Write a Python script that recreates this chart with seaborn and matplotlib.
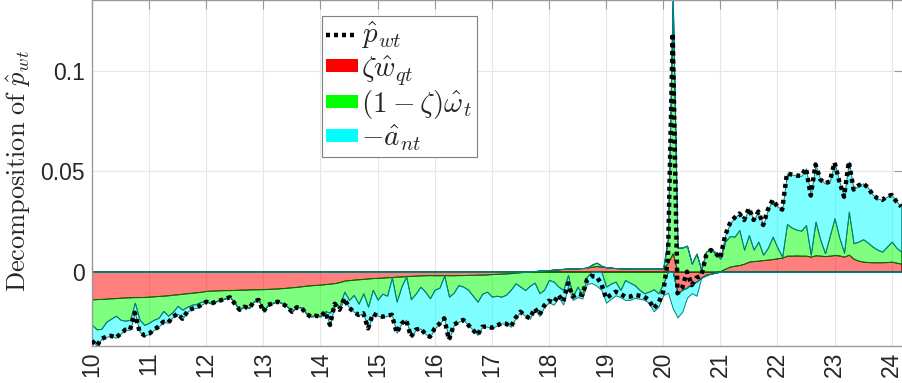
import numpy as np
import pandas as pd
import matplotlib
matplotlib.use("Agg")
import matplotlib.pyplot as plt
from matplotlib.lines import Line2D
from matplotlib.patches import Patch
import seaborn as sns

# ---------------- data (monthly, x = year - 2000) ----------------
start_year = 10
n_months = 171
years = start_year + np.arange(n_months) / 12.0

# total  p_hat_wt
p_wt = [
    -0.0345, -0.037, -0.0335, -0.0325, -0.032, -0.033, -0.031, -0.029, -0.029, -0.0205, -0.03, -0.0318,
    -0.031, -0.029, -0.0274, -0.025, -0.0255, -0.0225, -0.021, -0.0235, -0.02, -0.0185, -0.018, -0.0165,
    -0.015, -0.016, -0.015, -0.0143, -0.0135, -0.0128, -0.016, -0.019, -0.0175, -0.0183, -0.015, -0.0141,
    -0.02, -0.0166, -0.0158, -0.015, -0.016, -0.0175, -0.02, -0.0178, -0.018, -0.021, -0.0225, -0.022,
    -0.0225, -0.02, -0.0266, -0.016, -0.019, -0.0133, -0.018, -0.02, -0.0216, -0.0208, -0.0283, -0.021,
    -0.022, -0.0225, -0.022, -0.0215, -0.0305, -0.026, -0.024, -0.0325, -0.029, -0.0283, -0.031, -0.0325,
    -0.0283, -0.026, -0.0233, -0.034, -0.0266, -0.025, -0.0241, -0.0265, -0.029, -0.0316, -0.0275, -0.0274,
    -0.028, -0.027, -0.0258, -0.026, -0.0275, -0.023, -0.02, -0.022, -0.0233, -0.0183, -0.0216, -0.017,
    -0.0145, -0.0155, -0.0116, -0.015, -0.0058, -0.0125, -0.011, -0.0116, -0.004, -0.0022, -0.0025, -0.006,
    -0.0133, -0.0116, -0.01, -0.011, -0.0125, -0.0125, -0.0116, -0.012, -0.0125, -0.0141, -0.0183, -0.0158,
    -0.01, 0.006, 0.119, -0.0108, -0.008, 0.0, -0.0067, -0.003, -0.002, 0.008, 0.0108, 0.0092,
    0.0067, 0.018, 0.024, 0.027, 0.029, 0.0258, 0.0316, 0.0258, 0.030, 0.0233, 0.031, 0.0358,
    0.0325, 0.031, 0.049, 0.0485, 0.048, 0.0478, 0.0516, 0.038, 0.0535, 0.046, 0.0441, 0.045,
    0.0545, 0.045, 0.0374, 0.0549, 0.041, 0.043, 0.0441, 0.042, 0.0385, 0.0366, 0.0358, 0.0375,
    0.0383, 0.035, 0.0325,
]

# zeta * w_hat_qt  (red)
zeta_wqt = [
    -0.0138, -0.0137, -0.0136, -0.0135, -0.0133, -0.0132, -0.013, -0.0129, -0.0128, -0.0127, -0.0127, -0.0126,
    -0.0125, -0.0123, -0.0121, -0.012, -0.0118, -0.0115, -0.0113, -0.011, -0.0108, -0.0105, -0.0103, -0.01,
    -0.0096, -0.0095, -0.0094, -0.0093, -0.0092, -0.0092, -0.0091, -0.009, -0.009, -0.0089, -0.0088, -0.0088,
    -0.0087, -0.0086, -0.0085, -0.0084, -0.0082, -0.008, -0.0078, -0.0076, -0.0073, -0.007, -0.0068, -0.0066,
    -0.0065, -0.0062, -0.006, -0.0057, -0.0052, -0.0045, -0.0042, -0.004, -0.0038, -0.0036, -0.0034, -0.0032,
    -0.0031, -0.003, -0.0028, -0.0027, -0.0025, -0.0024, -0.0022, -0.0021, -0.002, -0.0019, -0.0018, -0.0017,
    -0.0018, -0.0018, -0.0017, -0.0018, -0.0018, -0.0017, -0.0017, -0.0016, -0.0016, -0.0015, -0.0015, -0.0014,
    -0.0012, -0.0011, -0.001, -0.0009, -0.0007, -0.0005, -0.0003, 0.0, 0.0002, 0.0003, 0.0005, 0.0006,
    0.0008, 0.001, 0.0012, 0.0014, 0.0015, 0.0016, 0.0017, 0.0018, 0.002, 0.0025, 0.0028, 0.0025,
    0.0022, 0.002, 0.0018, 0.0017, 0.0016, 0.0016, 0.0015, 0.0015, 0.0015, 0.0015, 0.0015, 0.0016,
    0.0017, 0.0045, 0.0092, -0.0108, -0.009, -0.008, -0.006, -0.005, -0.003, -0.0015, -0.001, -0.0005,
    0.0003, 0.0015, 0.0025, 0.003, 0.0033, 0.004, 0.005, 0.0053, 0.0055, 0.0058, 0.006, 0.0063,
    0.0067, 0.007, 0.008, 0.008, 0.0081, 0.008, 0.008, 0.0075, 0.0082, 0.008, 0.0078, 0.008,
    0.0083, 0.0081, 0.0075, 0.0085, 0.0065, 0.0055, 0.005, 0.0048, 0.0047, 0.0047, 0.0047, 0.0048,
    0.005, 0.0045, 0.004,
]

# (1 - zeta) * omega_hat_t  (green)
omega_t = [
    -0.0128, -0.0151, -0.0149, -0.0115, -0.0102, -0.0088, -0.011, -0.0116, -0.0112, -0.0028, -0.0113, -0.014,
    -0.013, -0.0117, -0.0109, -0.0076, -0.0102, -0.0085, -0.0058, -0.008, -0.0067, -0.006, -0.0057, -0.005,
    -0.0051, -0.0062, -0.0053, -0.0047, -0.004, -0.0033, -0.0066, -0.0097, -0.0082, -0.0091, -0.0059, -0.005,
    -0.011, -0.0077, -0.007, -0.0063, -0.0075, -0.0092, -0.0119, -0.0099, -0.0104, -0.0137, -0.0154, -0.0151,
    -0.0155, -0.0135, -0.0145, -0.0101, -0.0123, -0.0055, -0.0099, -0.0076, -0.0122, -0.0072, -0.0141, -0.0059,
    -0.0109, -0.008, -0.0092, -0.0003, -0.0125, -0.0051, -0.0003, -0.0117, -0.009, -0.0056, -0.0082, -0.0116,
    -0.0072, -0.0062, -0.0003, -0.0107, -0.0087, -0.005, -0.0058, -0.0074, -0.0104, -0.0135, -0.0095, -0.0086,
    -0.0113, -0.0109, -0.0115, -0.0106, -0.0083, -0.0053, -0.0072, -0.0092, -0.007, -0.0055, -0.0108, -0.009,
    -0.0041, -0.005, -0.0075, -0.0092, -0.0017, -0.0125, -0.0075, -0.0116, -0.0025, 0.001, 0.0017, 0.0005,
    -0.0075, -0.006, -0.005, -0.0092, -0.0042, -0.0055, -0.0067, -0.009, -0.0108, -0.01, -0.0088, -0.0108,
    -0.006, 0.012, 0.128, 0.012, 0.012, 0.013, 0.004, 0.009, 0.001, 0.01, 0.011, 0.009,
    0.0062, 0.0135, 0.0153, 0.0145, 0.0175, 0.007, 0.0133, 0.0057, 0.0095, 0.0027, 0.006, 0.0112,
    0.0053, 0.0005, 0.0158, 0.014, 0.0129, 0.0125, 0.0153, 0.001, 0.0168, 0.008, 0.0014, 0.01,
    0.0184, 0.0089, 0.002, 0.0215, 0.0077, 0.0095, 0.0112, 0.0097, 0.0078, 0.0063, 0.0053, 0.0077,
    0.01, 0.0075, 0.006,
]

x_ticks = list(range(10, 25))
y_ticks = [0, 0.05, 0.1]
y_tick_labels = ["0", "0.05", "0.1"]

labels = [r"$\hat{p}_{wt}$", r"$\zeta\hat{w}_{qt}$",
          r"$(1-\zeta)\hat{\omega}_t$", r"$-\hat{a}_{nt}$"]

# ---------------- derived ----------------
p = np.array(p_wt)
red = np.array(zeta_wqt)
green = np.array(omega_t)
cyan = p - red - green          # -a_hat_nt (residual of the decomposition)

df = pd.DataFrame({"year": years, "p": p})

# ---------------- figure ----------------
sns.set_theme(style="white")
plt.rcParams["font.family"] = ["Liberation Sans", "DejaVu Sans"]
plt.rcParams["mathtext.fontset"] = "cm"

W, H = 902, 383
fig = plt.figure(figsize=(W / 100, H / 100), dpi=100)
ax_left, ax_bottom = 92 / W, (H - 346) / H
ax = fig.add_axes([ax_left, ax_bottom, (903.1 - 92) / W, 346 / H])

ax.set_xlim(10, 24.2)
ax.set_ylim(-0.0371, 0.1356)

series = [
    (red, (1, 0, 0, 0.5), (0.45, 0.0, 0.0)),
    (green, (0, 1, 0, 0.5), (0.0, 0.42, 0.0)),
    (cyan, (0, 1, 1, 0.5), (0.0, 0.5, 0.5)),
]
pos_base = np.zeros_like(p)
neg_base = np.zeros_like(p)
for vals, face, edge in series:
    pos = np.clip(vals, 0, None)
    neg = np.clip(vals, None, 0)
    ax.fill_between(years, pos_base, pos_base + pos, facecolor=face,
                    edgecolor=edge, linewidth=0.7, zorder=2)
    ax.fill_between(years, neg_base, neg_base + neg, facecolor=face,
                    edgecolor=edge, linewidth=0.7, zorder=2)
    pos_base = pos_base + pos
    neg_base = neg_base + neg

sns.lineplot(data=df, x="year", y="p", ax=ax, color="black",
             linewidth=3.2, linestyle=(0, (0.9, 0.9)), zorder=4)

# axes styling
ax.set_xticks(x_ticks)
ax.set_xticklabels([str(t) for t in x_ticks], rotation=90)
ax.set_yticks(y_ticks)
ax.set_yticklabels(y_tick_labels)
ax.grid(True, color="#e6e6e6", linewidth=0.8, zorder=0)
ax.set_axisbelow(True)
for s in ax.spines.values():
    s.set_color("#9a9a9a")
    s.set_linewidth(1.0)
ax.tick_params(axis="both", which="major", direction="in", length=6.5,
               width=0.8, color="#9a9a9a", top=True, right=True,
               labelsize=16.5, labelcolor="#262626")
ax.tick_params(axis="y", pad=5)
ax.tick_params(axis="x", pad=4)
for lab in ax.get_xticklabels():
    lab.set_va("top")
    lab.set_ha("center")

ax.set_xlabel("")
ax.set_ylabel(r"$\mathrm{Decomposition\ of}\ \hat{p}_{wt}$", fontsize=19,
              color="#262626")
ax.yaxis.set_label_coords(-0.0728, 0.506)

handles = [
    Line2D([0], [0], color="black", linewidth=3.2, linestyle=(0, (0.9, 0.9))),
    Patch(facecolor=(1, 0, 0), edgecolor="none"),
    Patch(facecolor=(0, 1, 0), edgecolor="none"),
    Patch(facecolor=(0, 1, 1), edgecolor="none"),
]
leg = ax.legend(handles, labels, loc="upper left",
                bbox_to_anchor=((322 - 92) / 811, 1 - 15.7 / 346),
                borderaxespad=0, fontsize=21, frameon=True, fancybox=False,
                framealpha=1, edgecolor="#7f7f7f", handlelength=1.07,
                handleheight=0.32, handletextpad=0.12, borderpad=0.15,
                labelspacing=0.05)
leg.get_frame().set_linewidth(0.8)

fig.savefig("out.png", dpi=100)
